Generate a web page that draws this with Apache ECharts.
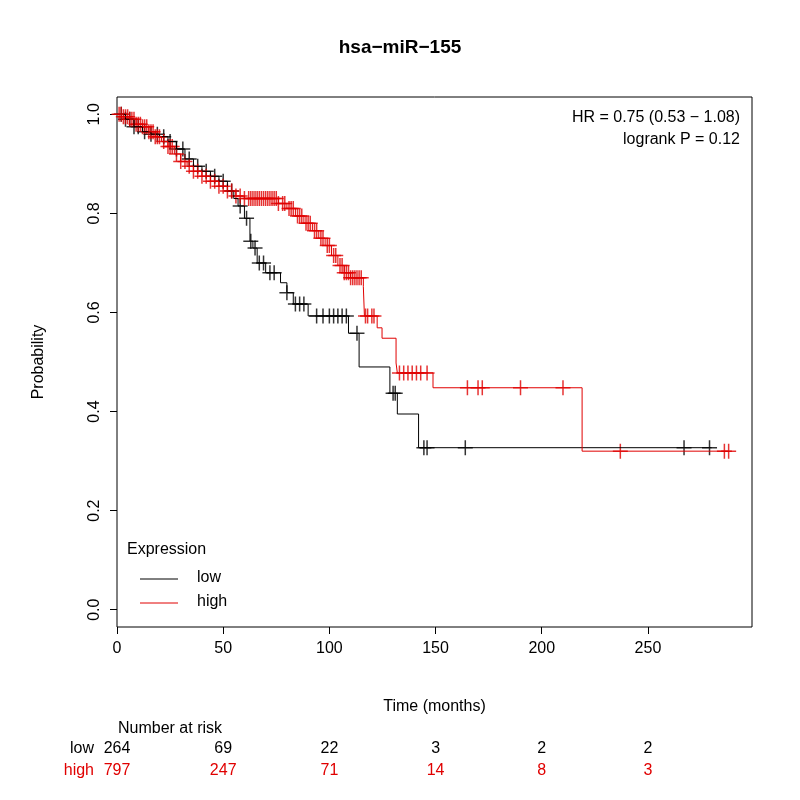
<!DOCTYPE html>
<html><head><meta charset="utf-8">
<script src="https://cdn.jsdelivr.net/npm/echarts@6/dist/echarts.min.js"></script>
<style>html,body{margin:0;background:#fff}#c{width:800px;height:800px}</style>
</head><body><div id="c"></div>
<script>
// KM step points [time, probability]
const lowCurve = [[0,1],[4,0.99],[8,0.975],[12,0.965],[16,0.96],[20,0.955],[24,0.945],[28,0.93],[32,0.91],[36,0.895],[40,0.885],[44,0.875],[48,0.865],[52,0.845],[55,0.83],[57,0.815],[60,0.79],[62.6,0.744],[64,0.73],[66,0.70],[70,0.68],[77,0.66],[80,0.64],[83,0.617],[90,0.593],[109,0.558],[114,0.49],[128.5,0.437],[132,0.395],[142,0.327],[280,0.327]];
const highCurve = [[0,1],[3,0.995],[6,0.99],[9,0.98],[12,0.975],[15,0.965],[18,0.955],[21,0.945],[24,0.935],[27,0.92],[30,0.905],[33,0.895],[36,0.885],[40,0.875],[44,0.865],[48,0.855],[52,0.845],[56,0.835],[60,0.83],[76,0.82],[80,0.81],[84,0.795],[88,0.78],[92,0.765],[95,0.75],[98,0.735],[101,0.715],[104,0.695],[107,0.68],[110,0.67],[116,0.652],[116.5,0.593],[122.5,0.569],[124.8,0.548],[131.4,0.498],[132,0.478],[148.8,0.448],[219,0.32],[288,0.32]];
const lowCensor = [2,4,6,8,10,13,16,19,22,25,28,31,34,38,42,46,50,54,58,61,63,65,67,69,72,74,80,84,86,88,94,97,100,102,104,106,108,113,130,131,144.5,146,164,267,279];
const highCensor = [1,2,3,4,5,6,7,8,9,10,11,12,13,14,15,16,17,18,19,20,22,24,25,26,28,30,32,34,36,38,40,42,44,46,48,50,52,54,56,58,60,62,63,64,65,66,67,68,69,70,71,72,73,74,75,76,78,79,81,82,83,85,86,87,89,90,91,93,94,96,97,99,100,102,103,105,106,107,108,109,110,111,112,113,114,115,117,118,120,121,133,135,137,139,141,143,146,165,170,172,190,210,237,286,288];
const riskTimes = [0,50,100,150,200,250];
const riskLow = [264,69,22,3,2,2];
const riskHigh = [797,247,71,14,8,3];
const yTicks = [0,0.2,0.4,0.6,0.8,1];

function survAt(curve, t){
  let p = 1;
  for (const [x,y] of curve) { if (x <= t) p = y; else break; }
  return p;
}
const cross = 'path://M-0.1,-1H0.1V1H-0.1Z M-1,-0.1H1V0.1H-1Z';
const font = 'Liberation Sans, Arial, sans-serif';
const chart = echarts.init(document.getElementById('c'));
const xPix = t => 117 + t * 2.124;

const gfx = [
  {type:'text', left:'center', top:38, style:{text:'hsa\u2212miR\u2212155', font:'bold 19px '+font, fill:'#000'}},
  {type:'text', x:740, y:110, style:{text:'HR = 0.75 (0.53 \u2212 1.08)', font:'16px '+font, align:'right', fill:'#000'}},
  {type:'text', x:740, y:132, style:{text:'logrank P = 0.12', font:'16px '+font, align:'right', fill:'#000'}},
  {type:'text', x:127, y:542, style:{text:'Expression', font:'16px '+font, fill:'#000'}},
  {type:'line', shape:{x1:140,y1:579,x2:178,y2:579}, style:{stroke:'#000',lineWidth:1}},
  {type:'line', shape:{x1:140,y1:603,x2:178,y2:603}, style:{stroke:'#e00000',lineWidth:1}},
  {type:'text', x:197, y:570, style:{text:'low', font:'16px '+font, fill:'#000'}},
  {type:'text', x:197, y:594, style:{text:'high', font:'16px '+font, fill:'#000'}},
  {type:'text', x:118, y:721, style:{text:'Number at risk', font:'16px '+font, fill:'#000'}},
  {type:'text', x:94, y:741, style:{text:'low', font:'16px '+font, align:'right', fill:'#000'}},
  {type:'text', x:94, y:763, style:{text:'high', font:'16px '+font, align:'right', fill:'#e00000'}}
];
riskTimes.forEach((t,i) => {
  gfx.push({type:'text', x:xPix(t), y:741, style:{text:String(riskLow[i]), font:'16px '+font, align:'center', fill:'#000'}});
  gfx.push({type:'text', x:xPix(t), y:763, style:{text:String(riskHigh[i]), font:'16px '+font, align:'center', fill:'#e00000'}});
});

chart.setOption({
  animation:false,
  grid:{left:117, right:48, top:97, bottom:173, show:true, borderColor:'#000', borderWidth:1},
  xAxis:{type:'value', min:0, max:299, interval:50,
    name:'Time (months)', nameLocation:'middle', nameGap:72, nameTextStyle:{fontSize:16, color:'#000', fontFamily:font},
    axisLine:{show:false, onZero:false}, splitLine:{show:false},
    axisTick:{show:true, length:7, lineStyle:{color:'#000'}},
    axisLabel:{color:'#000', fontSize:16, margin:14, fontFamily:font, showMaxLabel:false}},
  yAxis:{type:'value', min:-0.035, max:1.035,
    name:'Probability', nameLocation:'middle', nameGap:70, nameTextStyle:{fontSize:16, color:'#000', fontFamily:font},
    axisLine:{show:false, onZero:false}, splitLine:{show:false},
    axisTick:{show:true, length:7, lineStyle:{color:'#000'}, customValues:yTicks},
    axisLabel:{color:'#000', fontSize:16, rotate:90, margin:14, fontFamily:font, customValues:yTicks,
      formatter:v=>v.toFixed(1)}},
  graphic:gfx,
  series:[
    {type:'line', step:'end', data:lowCurve, symbol:'none', lineStyle:{color:'#000', width:1}},
    {type:'line', step:'end', data:highCurve, symbol:'none', lineStyle:{color:'#e00000', width:1}},
    {type:'scatter', data:lowCensor.map(t=>[t, survAt(lowCurve,t)]), symbol:cross, symbolSize:15, itemStyle:{color:'#000'}},
    {type:'scatter', data:highCensor.map(t=>[t, survAt(highCurve,t)]), symbol:cross, symbolSize:15, itemStyle:{color:'#e00000'}}
  ]
});
</script></body></html>
